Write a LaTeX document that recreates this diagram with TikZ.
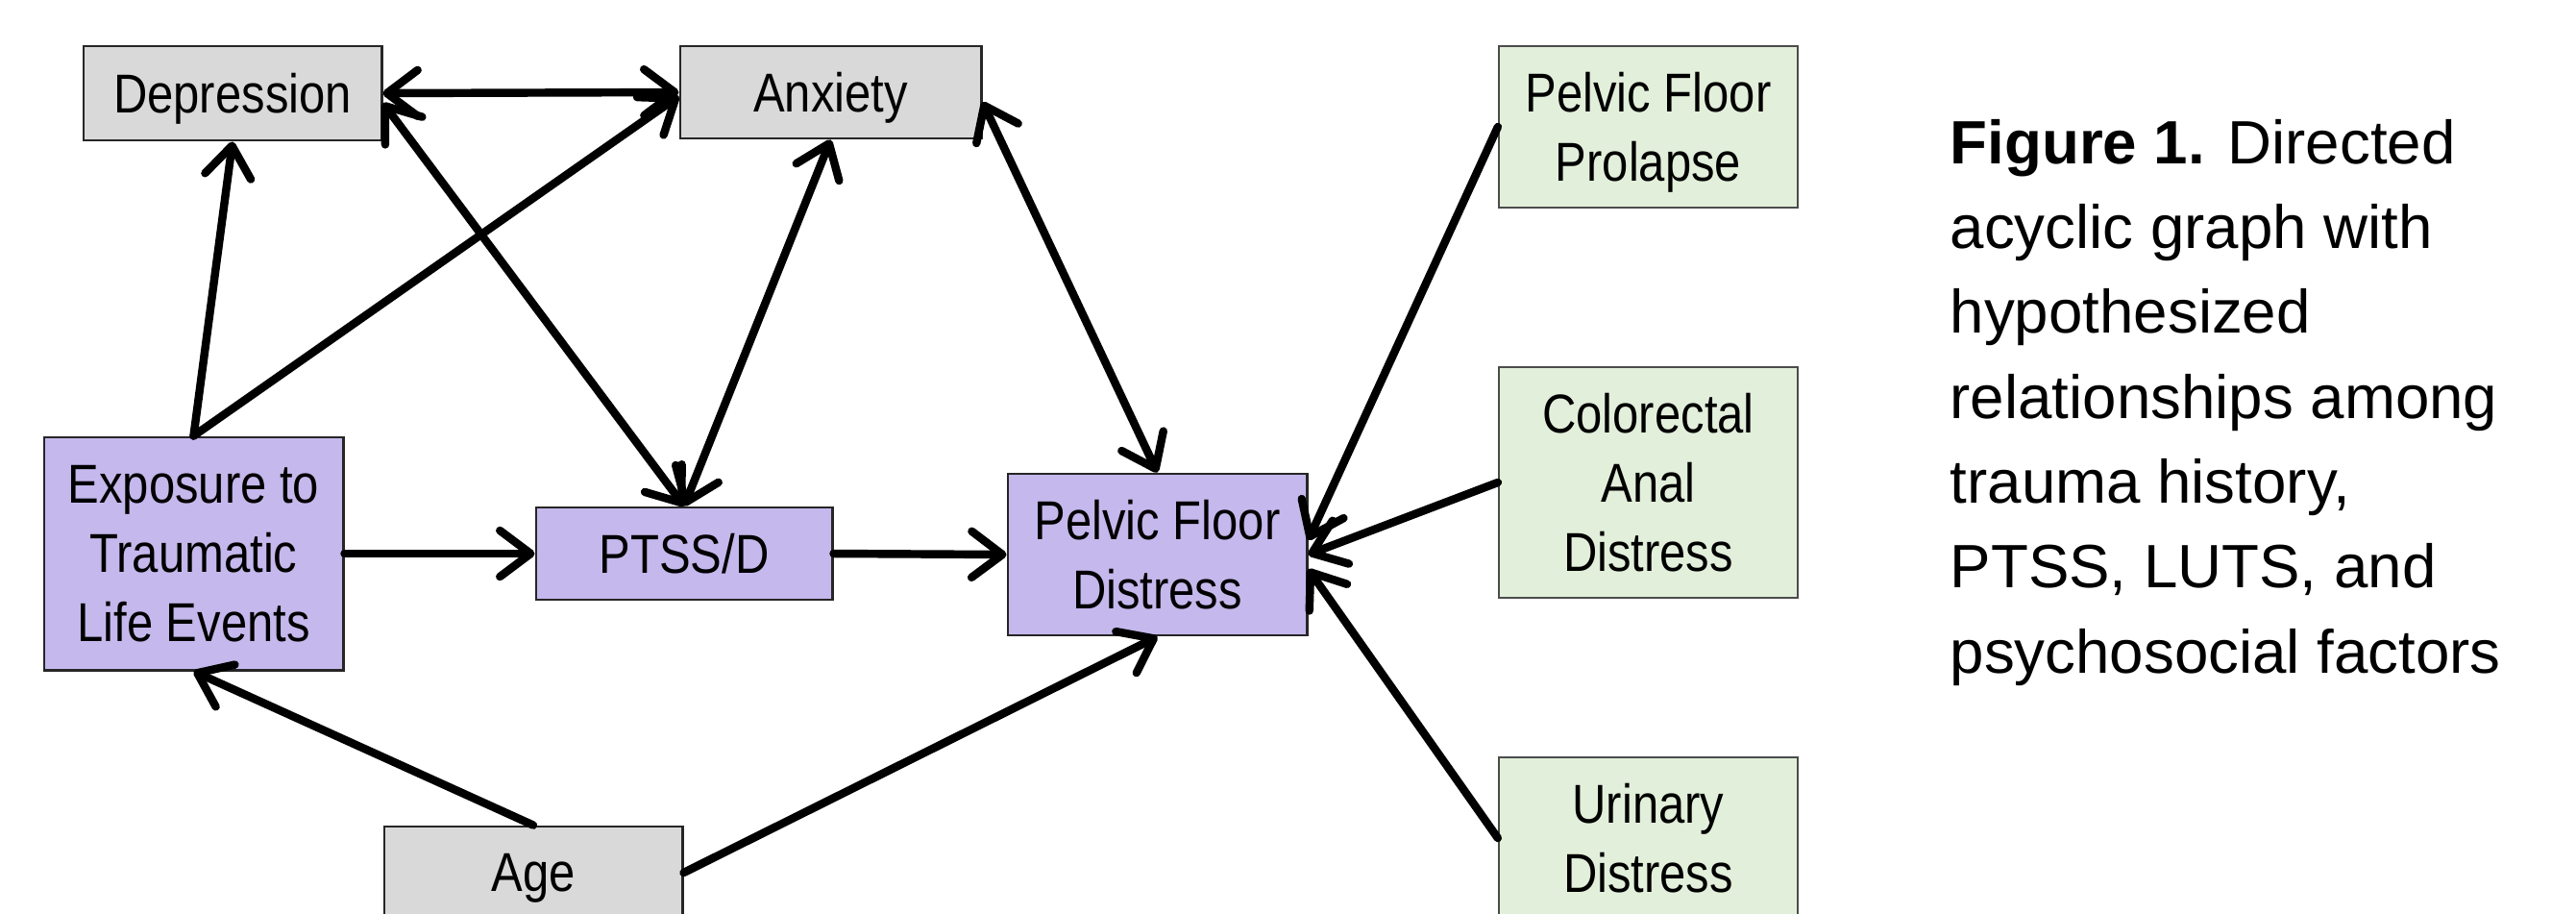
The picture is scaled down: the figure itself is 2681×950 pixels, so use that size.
\documentclass[tikz,border=0pt]{standalone}
\usepackage{fontspec}
\setmainfont{Liberation Sans}
\newfontfamily\boxfont[FakeStretch=0.86]{Liberation Sans}
\usetikzlibrary{arrows.meta}
\definecolor{boxgray}{HTML}{D9D9D9}
\definecolor{boxpurple}{HTML}{C5B8EC}
\definecolor{boxgreen}{HTML}{E2EFDA}
\tikzset{
  basebox/.style={rectangle, inner sep=0pt, align=center,
    font=\boxfont\fontsize{16.2pt}{20.5pt}\selectfont, minimum width=3.1cm},
  graybox/.style={basebox, fill=boxgray, draw=black!85, line width=0.8pt},
  purplebox/.style={basebox, fill=boxpurple, draw=black!85, line width=0.8pt},
  greenbox/.style={basebox, fill=boxgreen, draw=black!70, line width=0.6pt},
  single/.style={text depth=0pt},
  conn/.style={line width=2.4pt, line cap=round,
    -{Straight Barb[length=0.32cm, width=0.48cm, line cap=round, line join=round]}},
  biconn/.style={line width=2.4pt, line cap=round,
    {Straight Barb[length=0.32cm, width=0.48cm, line cap=round, line join=round]}-{Straight Barb[length=0.32cm, width=0.48cm, line cap=round, line join=round]}},
  caption/.style={align=left, inner sep=0pt, anchor=base west,
    font=\fontsize{18.1pt}{25.1pt}\selectfont}
}
\begin{document}
\begin{tikzpicture}[x=0.01cm, y=-0.01cm]
\useasboundingbox (0,0) rectangle (2681,950);
\clip (0,0) rectangle (2681,950);
\fill[white] (0,0) rectangle (2681,950);

\node[graybox, single, minimum height=0.98cm] (dep) at (242,97) {Depression};
\node[graybox, single, minimum height=0.96cm, minimum width=3.13cm] (anx) at (864.5,96) {Anxiety};
\node[purplebox, minimum height=2.42cm, minimum width=3.11cm] (exp) at (201.5,576) {Exposure to\\Traumatic\\Life Events};
\node[purplebox, single, minimum height=0.96cm, minimum width=3.08cm] (ptsd) at (712,576) {PTSS/D};
\node[purplebox, minimum height=1.68cm, minimum width=3.11cm] (pfd) at (1204.5,577) {Pelvic Floor\\Distress};
\node[graybox, single, minimum height=0.96cm] (age) at (555,908) {Age};
\node[greenbox, minimum height=1.68cm, minimum width=3.11cm, text depth=0pt] (pfp) at (1715.5,132) {Pelvic Floor\\Prolapse};
\node[greenbox, minimum height=2.40cm, minimum width=3.11cm] (cad) at (1715.5,502) {Colorectal\\Anal\\Distress};
\node[greenbox, minimum height=1.68cm, minimum width=3.11cm] (uri) at (1715.5,872) {Urinary\\Distress};

\node[caption] (cap) at (2029,700) {\textbf{Figure 1.} Directed\\acyclic graph with\\hypothesized\\relationships among\\trauma history,\\PTSS, LUTS, and\\psychosocial factors};

\draw[biconn] (dep.east) -- (anx.west);
\draw[conn] (exp.north) -- (dep.south);
\draw[conn] (exp.north) -- ([yshift=-0.04cm]anx.west);
\draw[biconn] ([yshift=-0.1cm]dep.east) -- (ptsd.north);
\draw[biconn] (anx.south) -- (ptsd.north);
\draw[biconn] ([yshift=-0.1cm]anx.east) -- (pfd.north);
\draw[conn] (exp.east) -- (ptsd.west);
\draw[conn] (ptsd.east) -- (pfd.west);
\draw[conn] (age.north) -- (exp.south);
\draw[conn] (age.east) -- (pfd.south);
\draw[conn] (pfp.west) -- ([yshift=0.15cm]pfd.east);
\draw[conn] (cad.west) -- (pfd.east);
\draw[conn] (uri.west) -- ([yshift=-0.15cm]pfd.east);
\end{tikzpicture}
\end{document}
